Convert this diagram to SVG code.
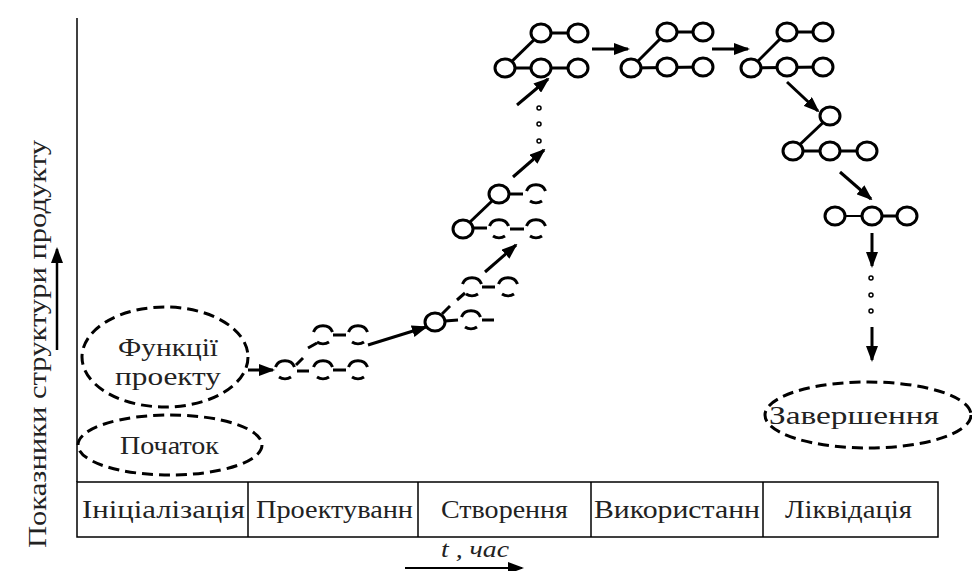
<svg xmlns="http://www.w3.org/2000/svg" xmlns:xlink="http://www.w3.org/1999/xlink" width="972" height="571" viewBox="0 0 972 571">
<style>
.n{fill:#fff;stroke:#000;stroke-width:3}
.l{stroke:#000;stroke-width:3;fill:none}
.dc{fill:none;stroke:#000;stroke-width:3}
.de{fill:none;stroke:#000;stroke-width:3;stroke-dasharray:11 6}
.t{fill:#222}
.a{stroke:#000;stroke-width:3;fill:none;marker-end:url(#ah)}
.dot{fill:#fff;stroke:#000;stroke-width:1.5}
.b{fill:none;stroke:#000;stroke-width:1.5}
</style>
<defs>
<marker id="ah" markerUnits="userSpaceOnUse" markerWidth="16" markerHeight="12" viewBox="0 0 16 12" refX="14" refY="6" orient="auto">
<path d="M0,0 L16,6 L0,12 Z" fill="#000"/>
</marker>
<path id="dcir" class="dc" d="M-9.5,-3 A10 9 0 0 1 9.5,-3 M-6,7 A10 9 0 0 0 6,7"/>
</defs>

<g id="axes" font-family="'Liberation Serif', 'DejaVu Serif', 'Times New Roman', serif">
<line class="b" x1="77" y1="18" x2="77" y2="482"/>
<rect class="b" x="77" y="482" width="861" height="55"/>
<line class="b" x1="248" y1="482" x2="248" y2="537"/>
<line class="b" x1="418" y1="482" x2="418" y2="537"/>
<line class="b" x1="591" y1="482" x2="591" y2="537"/>
<line class="b" x1="763" y1="482" x2="763" y2="537"/>
<text class="t" x="82" y="518" font-size="25" textLength="163" lengthAdjust="spacingAndGlyphs">Ініціалізація</text>
<text class="t" x="256" y="518" font-size="25" textLength="157" lengthAdjust="spacingAndGlyphs">Проектуванн</text>
<text class="t" x="441" y="518" font-size="25" textLength="127" lengthAdjust="spacingAndGlyphs">Створення</text>
<text class="t" x="594" y="518" font-size="25" textLength="166" lengthAdjust="spacingAndGlyphs">Використанн</text>
<text class="t" x="785" y="518" font-size="25" textLength="127" lengthAdjust="spacingAndGlyphs">Ліквідація</text>
<text class="t" x="441" y="557" font-size="23" font-style="italic" textLength="68" lengthAdjust="spacingAndGlyphs">t , час</text>
<line x1="405" y1="568" x2="522" y2="568" stroke="#000" stroke-width="2" marker-end="url(#ah)"/>
<text class="t" font-size="25" transform="translate(46,548) rotate(-90)" textLength="408" lengthAdjust="spacingAndGlyphs">Показники структури продукту</text>
<line x1="57" y1="350" x2="57" y2="249" stroke="#000" stroke-width="2.5" marker-end="url(#ah)"/>
</g>

<g id="functions" font-family="'Liberation Serif', 'DejaVu Serif', 'Times New Roman', serif">
<ellipse class="de" cx="165" cy="357" rx="83" ry="50"/>
<text class="t" x="118" y="356" font-size="26" textLength="100" lengthAdjust="spacingAndGlyphs" fill="#333">Функції</text>
<text class="t" x="115" y="385" font-size="26" textLength="106" lengthAdjust="spacingAndGlyphs" fill="#333">проекту</text>
</g>
<g id="start" font-family="'Liberation Serif', 'DejaVu Serif', 'Times New Roman', serif">
<ellipse class="de" cx="170" cy="445" rx="92" ry="30"/>
<text class="t" x="120" y="454" font-size="26" textLength="99" lengthAdjust="spacingAndGlyphs" fill="#333">Початок</text>
</g>
<g id="end" font-family="'Liberation Serif', 'DejaVu Serif', 'Times New Roman', serif">
<ellipse class="de" cx="868" cy="415" rx="103" ry="33"/>
<text class="t" x="769" y="424" font-size="26" textLength="170" lengthAdjust="spacingAndGlyphs" fill="#333">Завершення</text>
</g>

<g id="structA">
<use xlink:href="#dcir" x="285" y="370"/>
<use xlink:href="#dcir" x="323" y="370"/>
<use xlink:href="#dcir" x="358" y="370"/>
<use xlink:href="#dcir" x="323" y="335"/>
<use xlink:href="#dcir" x="358" y="335"/>
<line class="l" x1="297" y1="371" x2="309" y2="371"/>
<line class="l" x1="333" y1="370" x2="346" y2="370"/>
<line class="l" x1="333" y1="335" x2="346" y2="335"/>
<line class="l" x1="296" y1="365" x2="303" y2="358"/>
<line class="l" x1="308" y1="348" x2="317" y2="343"/>
</g>

<g id="structB">
<ellipse class="n" cx="435" cy="322" rx="10" ry="9"/>
<use xlink:href="#dcir" x="471" y="320"/>
<use xlink:href="#dcir" x="472" y="287"/>
<use xlink:href="#dcir" x="508" y="287"/>
<line class="l" x1="445" y1="321" x2="458" y2="320"/>
<line class="l" x1="482" y1="320" x2="494" y2="320"/>
<line class="l" x1="482" y1="287" x2="495" y2="287"/>
<line class="l" x1="442" y1="314" x2="450" y2="306"/>
<line class="l" x1="457" y1="300" x2="465" y2="293"/>
</g>

<g id="structC">
<ellipse class="n" cx="463" cy="229" rx="10" ry="9"/>
<ellipse class="n" cx="499" cy="194" rx="10" ry="9"/>
<use xlink:href="#dcir" x="536" y="194"/>
<use xlink:href="#dcir" x="499" y="229"/>
<use xlink:href="#dcir" x="536" y="229"/>
<line class="l" x1="470" y1="222" x2="492" y2="201"/>
<line class="l" x1="473" y1="228" x2="487" y2="228"/>
<line class="l" x1="510" y1="229" x2="524" y2="229"/>
<line class="l" x1="509" y1="194" x2="523" y2="194"/>
</g>

<g id="structD">
<line class="l" x1="505" y1="68" x2="578" y2="68"/>
<line class="l" x1="541" y1="33" x2="578" y2="33"/>
<line class="l" x1="505" y1="68" x2="541" y2="33"/>
<ellipse class="n" cx="505" cy="68" rx="10" ry="9"/>
<ellipse class="n" cx="541" cy="68" rx="10" ry="9"/>
<ellipse class="n" cx="578" cy="68" rx="10" ry="9"/>
<ellipse class="n" cx="541" cy="33" rx="10" ry="9"/>
<ellipse class="n" cx="578" cy="33" rx="10" ry="9"/>
</g>

<g id="structE">
<line class="l" x1="631" y1="68" x2="703" y2="67"/>
<line class="l" x1="667" y1="32" x2="703" y2="32"/>
<line class="l" x1="631" y1="68" x2="667" y2="32"/>
<ellipse class="n" cx="631" cy="68" rx="10" ry="9"/>
<ellipse class="n" cx="667" cy="67" rx="10" ry="9"/>
<ellipse class="n" cx="703" cy="67" rx="10" ry="9"/>
<ellipse class="n" cx="667" cy="32" rx="10" ry="9"/>
<ellipse class="n" cx="703" cy="32" rx="10" ry="9"/>
</g>

<g id="structF">
<line class="l" x1="751" y1="68" x2="823" y2="67"/>
<line class="l" x1="787" y1="32" x2="823" y2="32"/>
<line class="l" x1="751" y1="68" x2="787" y2="32"/>
<ellipse class="n" cx="751" cy="68" rx="10" ry="9"/>
<ellipse class="n" cx="787" cy="67" rx="10" ry="9"/>
<ellipse class="n" cx="823" cy="67" rx="10" ry="9"/>
<ellipse class="n" cx="787" cy="32" rx="10" ry="9"/>
<ellipse class="n" cx="823" cy="32" rx="10" ry="9"/>
</g>

<g id="structG">
<line class="l" x1="793" y1="151" x2="867" y2="151"/>
<line class="l" x1="793" y1="151" x2="830" y2="116"/>
<ellipse class="n" cx="830" cy="116" rx="10" ry="9"/>
<ellipse class="n" cx="793" cy="151" rx="10" ry="9"/>
<ellipse class="n" cx="830" cy="151" rx="10" ry="9"/>
<ellipse class="n" cx="867" cy="151" rx="10" ry="9"/>
</g>

<g id="structH">
<line x1="835" y1="216" x2="872" y2="216" stroke="#000" stroke-width="2"/>
<line class="l" x1="872" y1="216" x2="907" y2="216"/>
<ellipse class="n" cx="835" cy="216" rx="10" ry="9"/>
<ellipse class="n" cx="872" cy="216" rx="10" ry="9"/>
<ellipse class="n" cx="907" cy="216" rx="10" ry="9"/>
</g>

<g id="connectors">
<line class="a" x1="248" y1="370" x2="273" y2="370"/>
<line class="a" x1="368" y1="345" x2="426" y2="327"/>
<line class="a" x1="485" y1="272" x2="516" y2="245"/>
<line class="a" x1="513" y1="177" x2="544" y2="150"/>
<circle class="dot" cx="539" cy="108" r="2"/>
<circle class="dot" cx="539" cy="124" r="2"/>
<circle class="dot" cx="539" cy="141" r="2"/>
<line class="a" x1="517" y1="105" x2="548" y2="79"/>
<line class="a" x1="592" y1="49" x2="628" y2="49"/>
<line class="a" x1="712" y1="49" x2="748" y2="49"/>
<line class="a" x1="787" y1="82" x2="818" y2="111"/>
<line class="a" x1="840" y1="172" x2="871" y2="199"/>
<line class="a" x1="872" y1="233" x2="872" y2="266"/>
<circle class="dot" cx="871" cy="278" r="2"/>
<circle class="dot" cx="871" cy="295" r="2"/>
<circle class="dot" cx="871" cy="311" r="2"/>
<line class="a" x1="872" y1="327" x2="872" y2="360"/>
</g>
</svg>
